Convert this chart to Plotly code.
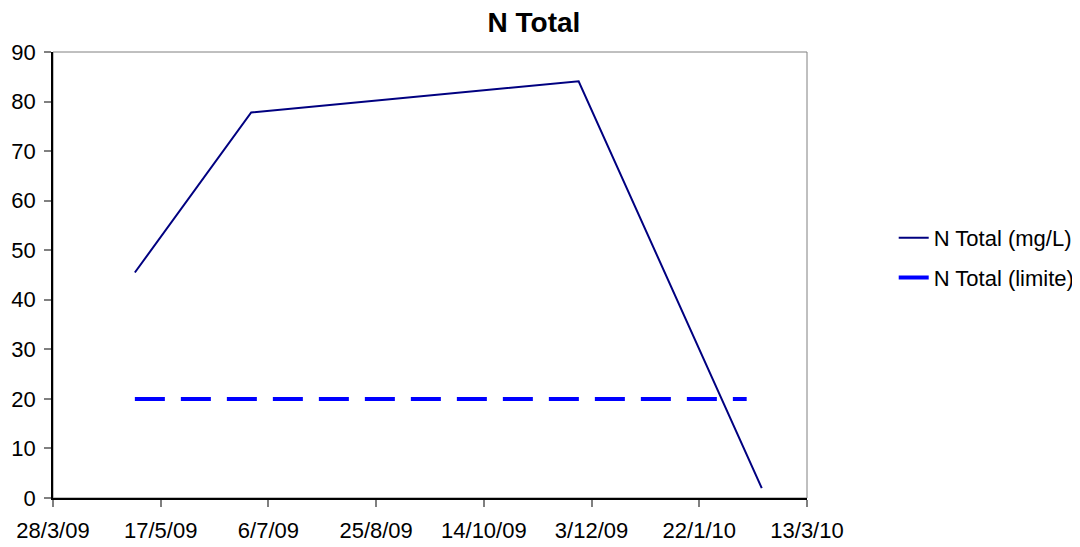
import plotly.graph_objects as go

# Data
dates_total = ["2009-05-05", "2009-06-28", "2009-11-27", "2010-02-20"]
n_total = [45.5, 77.8, 84.1, 2.0]

dates_limit = ["2009-05-05", "2010-02-13"]
n_limit = [20, 20]

x_tickvals = ["2009-03-28", "2009-05-17", "2009-07-06", "2009-08-25",
              "2009-10-14", "2009-12-03", "2010-01-22", "2010-03-13"]
x_ticktext = ["28/3/09", "17/5/09", "6/7/09", "25/8/09",
              "14/10/09", "3/12/09", "22/1/10", "13/3/10"]
y_tickvals = [0, 10, 20, 30, 40, 50, 60, 70, 80, 90]

FONT = "Liberation Sans, Arial, sans-serif"

fig = go.Figure()
fig.add_trace(go.Scatter(
    x=dates_total, y=n_total, mode="lines", name="N Total (mg/L)",
    line=dict(color="#000080", width=2), legendgroup="a"))
fig.add_trace(go.Scatter(
    x=dates_limit, y=n_limit, mode="lines", name="N Total (limite)",
    line=dict(color="#0000FF", width=4, dash="30px,16px"), legendgroup="b"))

fig.update_layout(
    width=1080, height=547,
    margin=dict(l=45, r=281, t=44, b=57, autoexpand=False),
    paper_bgcolor="white", plot_bgcolor="white",
    font=dict(family=FONT, size=22, color="black"),
    title=dict(text="<b>N Total</b>", x=0.487, xanchor="center",
               y=0.974, yanchor="middle", font=dict(family=FONT, size=28, color="black")),
    showlegend=True,
    legend=dict(x=1.115, xanchor="left", y=0.538, yanchor="middle",
                font=dict(family=FONT, size=22, color="black"),
                tracegroupgap=8, bgcolor="rgba(0,0,0,0)"),
    shapes=[dict(type="rect", xref="paper", yref="paper", x0=0, x1=1, y0=0, y1=1,
                 line=dict(color="#808080", width=1), layer="below")],
)

fig.update_xaxes(
    type="date", range=["2009-03-28", "2010-03-13"],
    tickvals=x_tickvals, ticktext=x_ticktext,
    showgrid=False, zeroline=False, automargin=False,
    showline=True, linecolor="black", linewidth=1.5,
    ticks="outside", ticklen=7, tickcolor="#808080", tickwidth=1.5,
    tickfont=dict(family=FONT, size=22, color="black"),
    ticklabelstandoff=5,
)
fig.update_yaxes(
    range=[0, 90], tickvals=y_tickvals,
    showgrid=False, zeroline=False, automargin=False,
    showline=True, linecolor="black", linewidth=1.5,
    ticks="outside", ticklen=7, tickcolor="#808080", tickwidth=1.5,
    tickfont=dict(family=FONT, size=22, color="black"),
    ticklabelstandoff=4,
)

fig.write_html("out.html")
